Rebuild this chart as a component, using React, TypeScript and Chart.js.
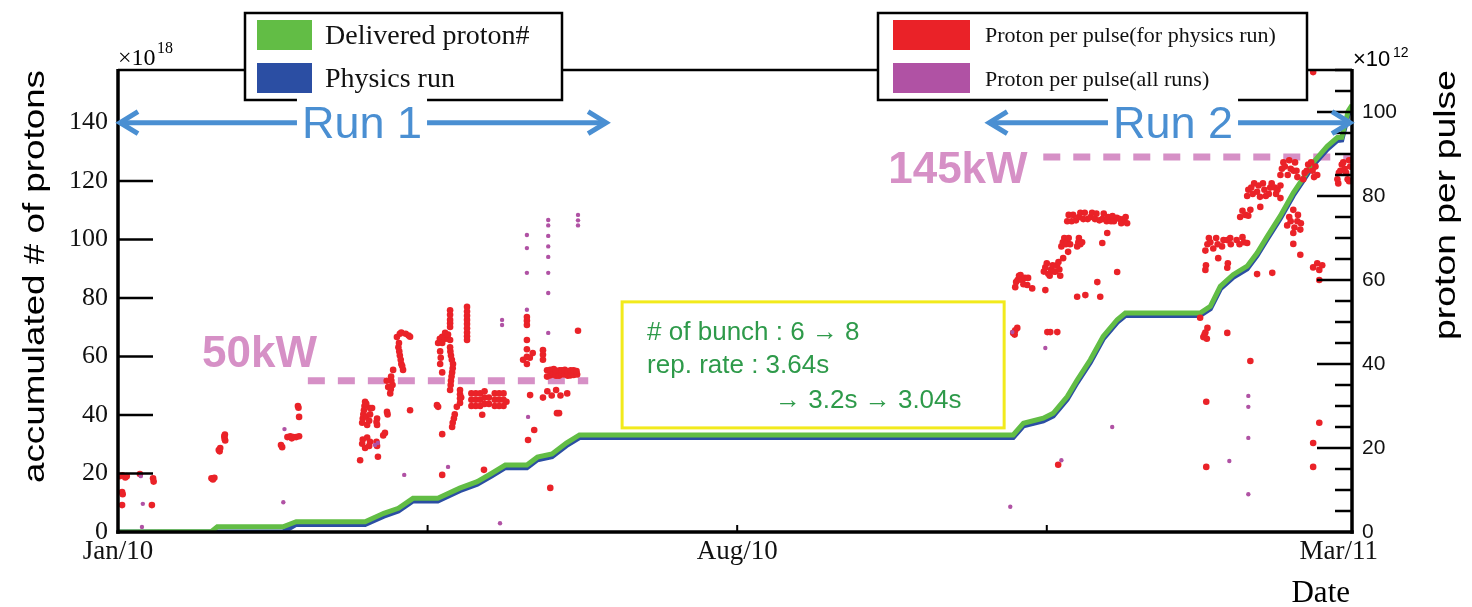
import React, { useEffect, useRef } from 'react';
import { Chart, registerables } from 'chart.js';

Chart.register(...registerables);

const W = 1472;
const H = 607;

// ---- axes (x in days since 2010-01-01) ----
const X_MAX = 422.5;
const LEFT_MAX = 158;
const RIGHT_MAX = 110;
const xTickDays = [0, 106, 212, 318, 418];
const xTickLabels = ['Jan/10', '', 'Aug/10', '', 'Mar/11'];
const leftTicks = [0, 20, 40, 60, 80, 100, 120, 140];
const rightTicks = [0, 20, 40, 60, 80, 100];
const rightMinorStep = 5;

// ---- accumulated # of protons (x10^18) ----
const deliveredDays = [0, 32, 34, 56.5, 61, 84.6, 91, 96, 101, 109.5, 117, 123, 128, 132.6, 140, 143.6, 148.6, 153.5, 158, 306.5, 310, 316.8, 320.2, 325, 328.4, 332.9, 337.3, 342.1, 344.9, 370.5, 374, 377.4, 381.8, 386.6, 390, 393.5, 397.9, 402.4, 405.5, 409.2, 414, 417.5, 419, 421.2, 422.5];
const deliveredValues = [0, 0.2, 1.8, 1.8, 3.5, 3.5, 6.4, 8.1, 11.5, 11.5, 15.0, 17.2, 20.1, 22.9, 22.9, 25.6, 26.7, 30.4, 33.2, 33.2, 37.2, 38.9, 40.6, 46.3, 52.0, 58.9, 66.9, 72.6, 74.9, 74.9, 77.2, 84.0, 88.0, 90.9, 95.4, 101.1, 108, 116, 120.6, 126.4, 131.9, 134.9, 135, 144, 146];

const physicsDays = [0, 56.5, 61, 84.6, 91, 96, 101, 109.5, 117, 123, 128, 132.6, 140, 143.6, 148.6, 153.5, 158, 306.5, 310, 316.8, 320.2, 325, 328.4, 332.9, 337.3, 342.1, 344.9, 370.5, 374, 377.4, 381.8, 386.6, 390, 393.5, 397.9, 402.4, 405.5, 409.2, 414, 417.5, 419, 421.2, 422.5];
const physicsValues = [0, 0, 2.6, 2.6, 5.4, 7.2, 10.6, 10.6, 14.1, 16.3, 19.2, 22.0, 22.0, 24.7, 25.8, 29.5, 32.3, 32.3, 36.3, 38.0, 39.7, 45.4, 51.1, 58.0, 66.0, 71.7, 74.0, 74.0, 76.3, 83.1, 87.1, 90.0, 94.5, 100.2, 107.1, 115.1, 119.7, 125.5, 130.9, 133.9, 134.1, 142.8, 145];

// ---- proton per pulse for physics run (x10^12), [day, value] ----
const pulsePhysicsRun1: [number, number][] = [
  [0.5, 13.3], [1.5, 13.5], [2.5, 13.0], [3, 13.3], [1.4, 9.5], [1.6, 9.0], [1.4, 6.4], [7.5, 13.8], [12, 12.8], [12.2, 12.0], [11.6, 6.4],
  [32, 12.8], [33, 12.9], [32.5, 12.5], [34.5, 19.5], [35, 20.0], [34.8, 19.2], [36.5, 22.2], [36.6, 23.2], [36.4, 22.8], [36.7, 21.8],
  [55.8, 20.7], [56.2, 20.2], [58, 22.6], [59, 22.8], [60, 22.6], [61, 22.6], [62, 22.8], [59.5, 22.3], [61.6, 30], [62, 27.4], [61.8, 29.6],
  [82.9, 17.1], [89, 17.9], [90.8, 23], [91.4, 23.6], [92.1, 28.6], [92.3, 28.0],
  [83.6, 26], [83.8, 27], [84, 28], [84.2, 29], [84.4, 30], [84.6, 31], [85, 30.5], [85, 27.5], [85.3, 25.5], [86, 26.5], [86.3, 28], [86.3, 29.5], [87, 29.5], [88.7, 25.5], [88.7, 27], [88.5, 26.2],
  [83.6, 21], [83.8, 22], [84.6, 20], [85.3, 22.5], [86.3, 21.5], [86, 20.5], [88.7, 20.5], [88.5, 21.5],
  [93.2, 33], [93.4, 34], [94, 35], [93.6, 36], [93.5, 37], [94.2, 38.6], [92, 36], [92.5, 34.5],
  [95.5, 46.4], [96.5, 47.2], [97, 47.5], [98.5, 47.2], [99.5, 46.8], [100, 46.5], [96, 44], [96.2, 45], [96.5, 42], [96.3, 43], [97, 40], [96.8, 41], [97.6, 38.6], [97.3, 39.5], [100, 29],
  [109.2, 30.2], [109.6, 29.8], [110.3, 40], [110.5, 41.5], [110.3, 43], [109.6, 45], [110.2, 46], [111, 46.5], [112, 47.4], [112, 46], [113, 46], [113, 47], [111, 45], [113.7, 45.7], [111, 38], [111, 23.3], [111, 13.6],
  [113.7, 33.8], [113.9, 35], [114, 36], [114.2, 37], [114.4, 38], [114.6, 39], [114.7, 40], [114.3, 41], [114, 42], [113.8, 43], [113.7, 44], [113.7, 48.8], [113.7, 49.7], [113.7, 50.5], [113.7, 51.7], [113.7, 52.8],
  [119.5, 45.7], [119.5, 46.6], [119.5, 47.5], [119.5, 48.5], [119.5, 49.5], [119.5, 50.5], [119.5, 51.5], [119.5, 52.5], [119.5, 53.6],
  [114.4, 25], [114.6, 26], [115, 27], [115.3, 28], [116, 29.8], [117.1, 30.7], [117.1, 31.8], [117.1, 32.8], [117.1, 33.8], [117.5, 32],
  [121, 30], [121, 31.5], [121, 33], [122.5, 30], [122.5, 31.5], [122.5, 33], [124, 30], [124, 31.5], [124, 33], [125.5, 30.5], [125.5, 32], [125.5, 33.5], [127, 30.5], [127, 32],
  [129, 30], [129, 31.5], [129, 33], [130.5, 30], [130.5, 31.5], [130.5, 33], [132, 30], [132, 31.5], [132, 33], [133, 31],
  [124.7, 27.9], [125.3, 14.8],
  [140, 49.3], [140, 50.3], [140, 51.2], [140, 45.7], [140, 41.7], [140, 43.5], [138.7, 41], [142, 42.6], [140, 40], [141, 41.5], [141.1, 32.6], [140.4, 21.9], [142.5, 24.3],
  [145.5, 41], [145.5, 42.2], [145.5, 43.3],
  [146.9, 37], [146.9, 38.5], [148, 37.3], [148, 38.6], [149, 37.5], [149.2, 38.8], [150, 37.2], [150, 38.4], [151, 37.2], [151.2, 38.5], [152, 37.5], [152, 38.5], [153, 37.5], [153, 38.6], [154, 37.2], [154, 38.2], [155, 37.3], [155, 38.5], [156, 37.4], [156, 38.5], [157.2, 37.5], [157, 38.3],
  [145.5, 32], [147, 33.5], [148.5, 32.5], [150, 33.8], [151.5, 32.5], [153.8, 33],
  [150.3, 28.3], [157.5, 47.9], [148, 10.5], [151, 28.3],
];

const pulsePhysicsRun2: [number, number][] = [
  [306.5, 47.4], [307.9, 48.6], [307.2, 48], [307, 47],
  [307.2, 58.3], [307.5, 59.5], [308, 60], [308.5, 61], [309, 61.2], [309.5, 60], [310, 59], [310.5, 60.5], [311.3, 58.8], [311.6, 60.5], [313, 58], [317.5, 57.6],
  [317, 62], [317.5, 63], [318, 64], [318.5, 61.5], [319, 61], [319.5, 62.5], [320, 63.5], [320.5, 62], [321, 62], [321.5, 63.5], [322, 64.3], [322.6, 61], [322.3, 62.5],
  [323, 68], [323.5, 69], [324, 70], [324.5, 68.5], [325, 69], [325.5, 70], [326, 68.5],
  [328.4, 68], [328.8, 69], [329, 70], [329.5, 68.5], [330.1, 69],
  [325, 74], [325.5, 75.5], [326.5, 74], [327, 75.5], [328, 74.2], [329, 75], [329.5, 76], [330.5, 74.5], [331, 76], [332, 74.5], [333, 75], [333.5, 76], [334.5, 74.5], [335, 75.8], [336, 74.2], [337, 74.5], [337.5, 75.8], [338.5, 74], [339, 75], [340, 74], [340.5, 75.2], [341, 74], [342, 74.8], [343, 74.5], [343.5, 73.5], [344.5, 74.5], [345.5, 73.5], [345, 75],
  [325.3, 66.7], [323.6, 65.2], [342.1, 61.9], [338.7, 71.2], [337, 68.8], [335.3, 59.5], [328.4, 56], [331.2, 56.4], [336.3, 56], [321.9, 16], [318.2, 47.6], [319.2, 47.6], [321.6, 47.6],
  [370.5, 51], [371.6, 46.4], [372, 47], [372.3, 47.5], [373, 48.6], [372.8, 46], [379.8, 47.4], [372.6, 31], [372.6, 15.5], [387.7, 40.7],
  [372.3, 67], [373, 68.5], [373.5, 70], [374, 69], [375, 67.5], [376, 70], [376.5, 68.5], [378, 68], [378.5, 69.5], [379.8, 69.5], [380.8, 70], [381, 68.5], [383, 69.5], [384, 68.5], [385, 70.2], [385.5, 69], [386.6, 68.8],
  [372.3, 62.4], [372.5, 63.5], [379.8, 62.9], [380, 64], [376.7, 65.2],
  [384.2, 75], [385, 76.5], [386, 75.5], [387.7, 76.7], [387, 75.3],
  [386.6, 80], [387, 81.5], [388, 82], [388.5, 80.5], [389, 83], [390, 81], [390.5, 82.5], [391, 79.8], [392, 83], [392.5, 81.5], [393, 80], [394, 80.5], [394.5, 82], [395, 83], [396, 82], [396.5, 80.5], [397, 81.5], [398, 79.5], [398, 82.5], [391.1, 77.4],
  [400.3, 73], [401, 75], [401.5, 74], [402.4, 71.2], [402.8, 72.5], [403.8, 74], [404, 75.5], [404.8, 72], [405, 73.5], [402.4, 68.6], [404.8, 66], [402.4, 76.7],
  [409.2, 63], [410.6, 64], [411.3, 62.4], [412.3, 63.5], [411.3, 60], [411.3, 26], [409.2, 21.2], [409.2, 15.5],
  [417.8, 83], [395.2, 61.7], [390, 61.4],
  [398, 85], [398.5, 86.5], [399, 88], [399.5, 87], [400.5, 85], [401, 88.5], [401.5, 86.5], [402.5, 86], [403, 88], [403.8, 84.5], [403.5, 86],
  [405.8, 84], [406.3, 85.5], [407, 86], [407.5, 87.5], [408.5, 88], [409, 86], [410, 87], [410.6, 85], [409.5, 84.5],
  [417.5, 84], [418, 85.5], [418.5, 86], [419, 87.5], [419.5, 88], [420, 86.5], [420.5, 85.5], [421, 84], [421.9, 87], [421.5, 83.5], [421.5, 88.5],
  [409.2, 109.5],
];

// ---- proton per pulse for all runs (x10^12), [day, value] ----
const pulseAllRuns: [number, number][] = [
  [8.5, 6.7], [8.2, 1.2], [7.8, 13.3], [57, 24.5], [56.6, 7.1], [88, 20.7], [89, 21.2], [98, 13.6], [113, 15.5],
  [131.5, 49.3], [131.5, 50.5], [130.8, 2.1], [140.4, 27.4],
  [140, 70.7], [140, 67.6], [140, 61.7], [140, 52.9],
  [147.3, 65.5], [147.3, 68], [147.3, 70.5], [147.3, 73], [147.3, 74.3], [147.3, 61.7], [147.3, 56.9], [147.3, 47.4],
  [157.5, 73], [157.5, 74.2], [157.5, 75.5],
  [306.2, 47.6], [317.5, 43.8], [340.4, 25], [323, 17.1], [305.5, 6],
  [387, 32.4], [387, 29.8], [387, 22.4], [387, 9], [380.5, 16.9],
];

// ---- annotations (data units) ----
const run1Span = [0, 167.8];
const run2Span = [297.6, 422.5];
const runArrowLevel = 140; // left axis
const kw50Span = [65, 161];
const kw50Level = 36; // right axis
const kw145Span = [316.8, 422.5];
const kw145Level = 89.3; // right axis
const noteBox = { x0: 172.6, x1: 303.4, y0: 35.6, y1: 78.7 }; // left axis
const noteLines = ['# of bunch : 6 \u2192 8', 'rep. rate : 3.64s', '\u2192 3.2s \u2192 3.04s'];

const GREEN = '#62bd45';
const BLUE = '#2b4ea3';
const RED = '#ea2228';
const MAGENTA = '#b052a4';
const PINK = '#d690c6';
const RUNBLUE = '#4a8fd2';
const NOTEGREEN = '#2e9a4a';
const SANS = '"Liberation Sans", Arial, sans-serif';
const SERIF = '"Liberation Serif", "Times New Roman", serif';

function line(ctx: CanvasRenderingContext2D, x1: number, y1: number, x2: number, y2: number) {
  ctx.beginPath();
  ctx.moveTo(x1, y1);
  ctx.lineTo(x2, y2);
  ctx.stroke();
}

function verticalTitle(ctx: CanvasRenderingContext2D, text: string, baseX: number, endY: number, length: number, size: number) {
  ctx.save();
  ctx.font = `${size}px ${SANS}`;
  const w = ctx.measureText(text).width;
  ctx.translate(baseX, endY);
  ctx.rotate(-Math.PI / 2);
  ctx.scale(length / w, 1);
  ctx.textAlign = 'right';
  ctx.textBaseline = 'alphabetic';
  ctx.fillStyle = '#000';
  ctx.fillText(text, 0, 0);
  ctx.restore();
}

function arrow(ctx: CanvasRenderingContext2D, xa: number, xb: number, y: number) {
  ctx.save();
  ctx.strokeStyle = RUNBLUE;
  ctx.lineWidth = 5;
  ctx.lineJoin = 'miter';
  line(ctx, xa + 2, y, xb - 2, y);
  ctx.beginPath();
  ctx.moveTo(xa + 20, y - 11);
  ctx.lineTo(xa + 2, y);
  ctx.lineTo(xa + 20, y + 11);
  ctx.stroke();
  ctx.beginPath();
  ctx.moveTo(xb - 20, y - 11);
  ctx.lineTo(xb - 2, y);
  ctx.lineTo(xb - 20, y + 11);
  ctx.stroke();
  ctx.restore();
}

function runLabel(ctx: CanvasRenderingContext2D, text: string, cx: number, y: number) {
  ctx.save();
  ctx.font = `45px ${SANS}`;
  const w = ctx.measureText(text).width;
  ctx.fillStyle = '#fff';
  ctx.fillRect(cx - w / 2 - 5, y - 25, w + 10, 48);
  ctx.fillStyle = RUNBLUE;
  ctx.textAlign = 'center';
  ctx.textBaseline = 'alphabetic';
  ctx.fillText(text, cx, y + 15);
  ctx.restore();
}

function legendBox(
  ctx: CanvasRenderingContext2D,
  x: number, y: number, w: number, h: number,
  swX: number, swW: number, textX: number, size: number,
  entries: { color: string; label: string; swY: number; base: number }[],
) {
  ctx.save();
  ctx.fillStyle = '#fff';
  ctx.fillRect(x, y, w, h);
  ctx.strokeStyle = '#000';
  ctx.lineWidth = 2.5;
  ctx.strokeRect(x, y, w, h);
  ctx.font = `${size}px ${SERIF}`;
  ctx.textAlign = 'left';
  ctx.textBaseline = 'alphabetic';
  for (const e of entries) {
    ctx.fillStyle = e.color;
    ctx.fillRect(swX, e.swY, swW, 30);
    ctx.fillStyle = '#111';
    ctx.fillText(e.label, textX, e.base);
  }
  ctx.restore();
}

const overlay = {
  id: 'overlay',
  beforeDatasetsDraw(chart: any) {
    const ctx: CanvasRenderingContext2D = chart.ctx;
    const x = chart.scales.x;
    const yL = chart.scales.yL;
    const yR = chart.scales.yR;
    const ca = chart.chartArea;
    ctx.save();
    ctx.beginPath();
    ctx.rect(ca.left, ca.top, ca.right - ca.left, ca.bottom - ca.top);
    ctx.clip();
    ctx.strokeStyle = PINK;
    ctx.lineWidth = 7;
    ctx.setLineDash([17, 13]);
    let yy = yR.getPixelForValue(kw50Level);
    line(ctx, x.getPixelForValue(kw50Span[0]), yy, x.getPixelForValue(kw50Span[1]), yy);
    yy = yR.getPixelForValue(kw145Level);
    line(ctx, x.getPixelForValue(kw145Span[0]), yy, x.getPixelForValue(kw145Span[1]), yy);
    ctx.setLineDash([]);
    const bx0 = x.getPixelForValue(noteBox.x0);
    const bx1 = x.getPixelForValue(noteBox.x1);
    const by0 = yL.getPixelForValue(noteBox.y1);
    const by1 = yL.getPixelForValue(noteBox.y0);
    ctx.fillStyle = '#fff';
    ctx.fillRect(bx0, by0, bx1 - bx0, by1 - by0);
    ctx.strokeStyle = '#f2ea1c';
    ctx.lineWidth = 3;
    ctx.strokeRect(bx0, by0, bx1 - bx0, by1 - by0);
    ctx.fillStyle = NOTEGREEN;
    ctx.font = `26px ${SANS}`;
    ctx.textBaseline = 'alphabetic';
    ctx.textAlign = 'left';
    ctx.fillText(noteLines[0], bx0 + 25, by0 + 38);
    ctx.fillText(noteLines[1], bx0 + 25, by0 + 71);
    ctx.fillText(noteLines[2], bx0 + 153, by0 + 106);
    ctx.fillStyle = PINK;
    ctx.font = `bold 44px ${SANS}`;
    ctx.fillText('50kW', x.getPixelForValue(28.8), yR.getPixelForValue(39.3));
    ctx.fillText('145kW', x.getPixelForValue(263.7), yR.getPixelForValue(83.1));
    ctx.restore();
  },
  afterDatasetsDraw(chart: any) {
    const ctx: CanvasRenderingContext2D = chart.ctx;
    const x = chart.scales.x;
    const yL = chart.scales.yL;
    const yR = chart.scales.yR;
    const { left, right, top, bottom } = chart.chartArea;
    ctx.save();
    ctx.strokeStyle = '#000';
    ctx.lineCap = 'butt';
    ctx.lineWidth = 2.5;
    line(ctx, left, top, right, top);
    ctx.lineWidth = 3.5;
    line(ctx, left, top - 1, left, bottom + 1.75);
    line(ctx, left - 1.75, bottom, right + 1.75, bottom);
    line(ctx, right, top - 1, right, bottom + 1.75);
    ctx.lineWidth = 2.5;
    for (const v of leftTicks) {
      const y = yL.getPixelForValue(v);
      if (v > 0) line(ctx, left, y, left + 35, y);
    }
    for (let v = rightMinorStep; v <= RIGHT_MAX; v += rightMinorStep) {
      const y = yR.getPixelForValue(v);
      const len = rightTicks.includes(v) ? 35 : 17;
      line(ctx, right - len, y, right, y);
    }
    ctx.lineWidth = 2;
    xTickDays.forEach((d, i) => {
      if (i === 0 || i === xTickDays.length - 1) return;
      const px = x.getPixelForValue(d);
      line(ctx, px, bottom, px, bottom - 7);
    });
    ctx.restore();

    const ay = yL.getPixelForValue(runArrowLevel);
    arrow(ctx, x.getPixelForValue(run1Span[0]), x.getPixelForValue(run1Span[1]), ay);
    arrow(ctx, x.getPixelForValue(run2Span[0]), x.getPixelForValue(run2Span[1]), ay);

    legendBox(ctx, 245, 13, 317, 87, 257, 55, 325, 28, [
      { color: GREEN, label: 'Delivered proton#', swY: 20, base: 44 },
      { color: BLUE, label: 'Physics run', swY: 63, base: 87 },
    ]);
    legendBox(ctx, 878, 13, 429, 87, 893, 77, 985, 22, [
      { color: RED, label: 'Proton per pulse(for physics run)', swY: 20, base: 42 },
      { color: MAGENTA, label: 'Proton per pulse(all runs)', swY: 63, base: 86 },
    ]);

    runLabel(ctx, 'Run 1', 362, ay);
    runLabel(ctx, 'Run 2', 1173, ay);

    verticalTitle(ctx, 'accumulated # of protons', 44, top, 413, 30);
    verticalTitle(ctx, 'proton per pulse', 1455, top, 270, 30);
    ctx.save();
    ctx.fillStyle = '#000';
    ctx.textBaseline = 'alphabetic';
    ctx.textAlign = 'left';
    ctx.font = `24px ${SERIF}`;
    ctx.fillText('\u00d710', left, 65);
    ctx.font = `16px ${SERIF}`;
    ctx.fillText('18', left + 39, 53);
    ctx.font = `22px ${SANS}`;
    ctx.fillText('\u00d710', right + 1, 66);
    ctx.font = `14px ${SANS}`;
    ctx.fillText('12', right + 41, 57);
    ctx.font = `31px ${SERIF}`;
    ctx.textAlign = 'right';
    ctx.fillText('Date', 1350, 602);
    ctx.restore();
  },
};

export default function App() {
  const ref = useRef<HTMLCanvasElement>(null);
  useEffect(() => {
    if (!ref.current) return;
    const toXY = (pts: [number, number][]) => pts.map(([d, v]) => ({ x: d, y: v }));
    const chart = new Chart(ref.current, {
      type: 'scatter',
      data: {
        datasets: [
          {
            label: 'Delivered proton#',
            data: deliveredDays.map((d, i) => ({ x: d, y: deliveredValues[i] })),
            showLine: true,
            borderColor: GREEN,
            backgroundColor: GREEN,
            borderWidth: 5,
            pointRadius: 0,
            tension: 0,
            yAxisID: 'yL',
            order: 2,
          },
          {
            label: 'Physics run',
            data: physicsDays.map((d, i) => ({ x: d, y: physicsValues[i] })),
            showLine: true,
            borderColor: BLUE,
            backgroundColor: BLUE,
            borderWidth: 5,
            pointRadius: 0,
            tension: 0,
            yAxisID: 'yL',
            order: 3,
          },
          {
            label: 'Proton per pulse(for physics run)',
            data: toXY([...pulsePhysicsRun1, ...pulsePhysicsRun2]),
            backgroundColor: RED,
            borderWidth: 0,
            pointRadius: 3.3,
            yAxisID: 'yR',
            order: 1,
          },
          {
            label: 'Proton per pulse(all runs)',
            data: toXY(pulseAllRuns),
            backgroundColor: MAGENTA,
            borderWidth: 0,
            pointRadius: 2.2,
            yAxisID: 'yR',
            order: 0,
          },
        ],
      },
      options: {
        animation: false,
        responsive: false,
        devicePixelRatio: 1,
        layout: { padding: { top: 70, left: 0, right: 0, bottom: 0 } },
        plugins: { legend: { display: false }, tooltip: { enabled: false } },
        scales: {
          x: {
            type: 'linear',
            position: 'bottom',
            min: 0,
            max: X_MAX,
            grid: { display: false, drawTicks: false },
            border: { display: false },
            afterBuildTicks: (s: any) => { s.ticks = xTickDays.map((v) => ({ value: v })); },
            afterFit: (s: any) => { s.height = H - 532; },
            ticks: {
              autoSkip: false,
              maxRotation: 0,
              minRotation: 0,
              padding: 4,
              color: '#111',
              font: { family: SERIF, size: 27, lineHeight: 1.2 },
              callback: (_v: any, i: number) => xTickLabels[i],
            },
          },
          yL: {
            type: 'linear',
            position: 'left',
            min: 0,
            max: LEFT_MAX,
            grid: { display: false, drawTicks: false },
            border: { display: false },
            afterBuildTicks: (s: any) => { s.ticks = leftTicks.map((v) => ({ value: v })); },
            afterFit: (s: any) => { s.width = 118; },
            ticks: {
              padding: 10,
              color: '#111',
              font: { family: SERIF, size: 26 },
              callback: (v: any) => String(v),
            },
          },
          yR: {
            type: 'linear',
            position: 'right',
            min: 0,
            max: RIGHT_MAX,
            grid: { display: false, drawTicks: false },
            border: { display: false },
            afterBuildTicks: (s: any) => { s.ticks = rightTicks.map((v) => ({ value: v })); },
            afterFit: (s: any) => { s.width = W - 1352; },
            ticks: {
              padding: 10,
              color: '#111',
              font: { family: SANS, size: 21 },
              callback: (v: any) => String(v),
            },
          },
        },
      },
      plugins: [overlay],
    } as any);
    return () => chart.destroy();
  }, []);
  return (
    <div style={{ position: 'fixed', left: 0, top: 0, width: W, height: H, background: '#fff' }}>
      <canvas ref={ref} width={W} height={H} style={{ width: W, height: H, display: 'block' }} />
    </div>
  );
}
